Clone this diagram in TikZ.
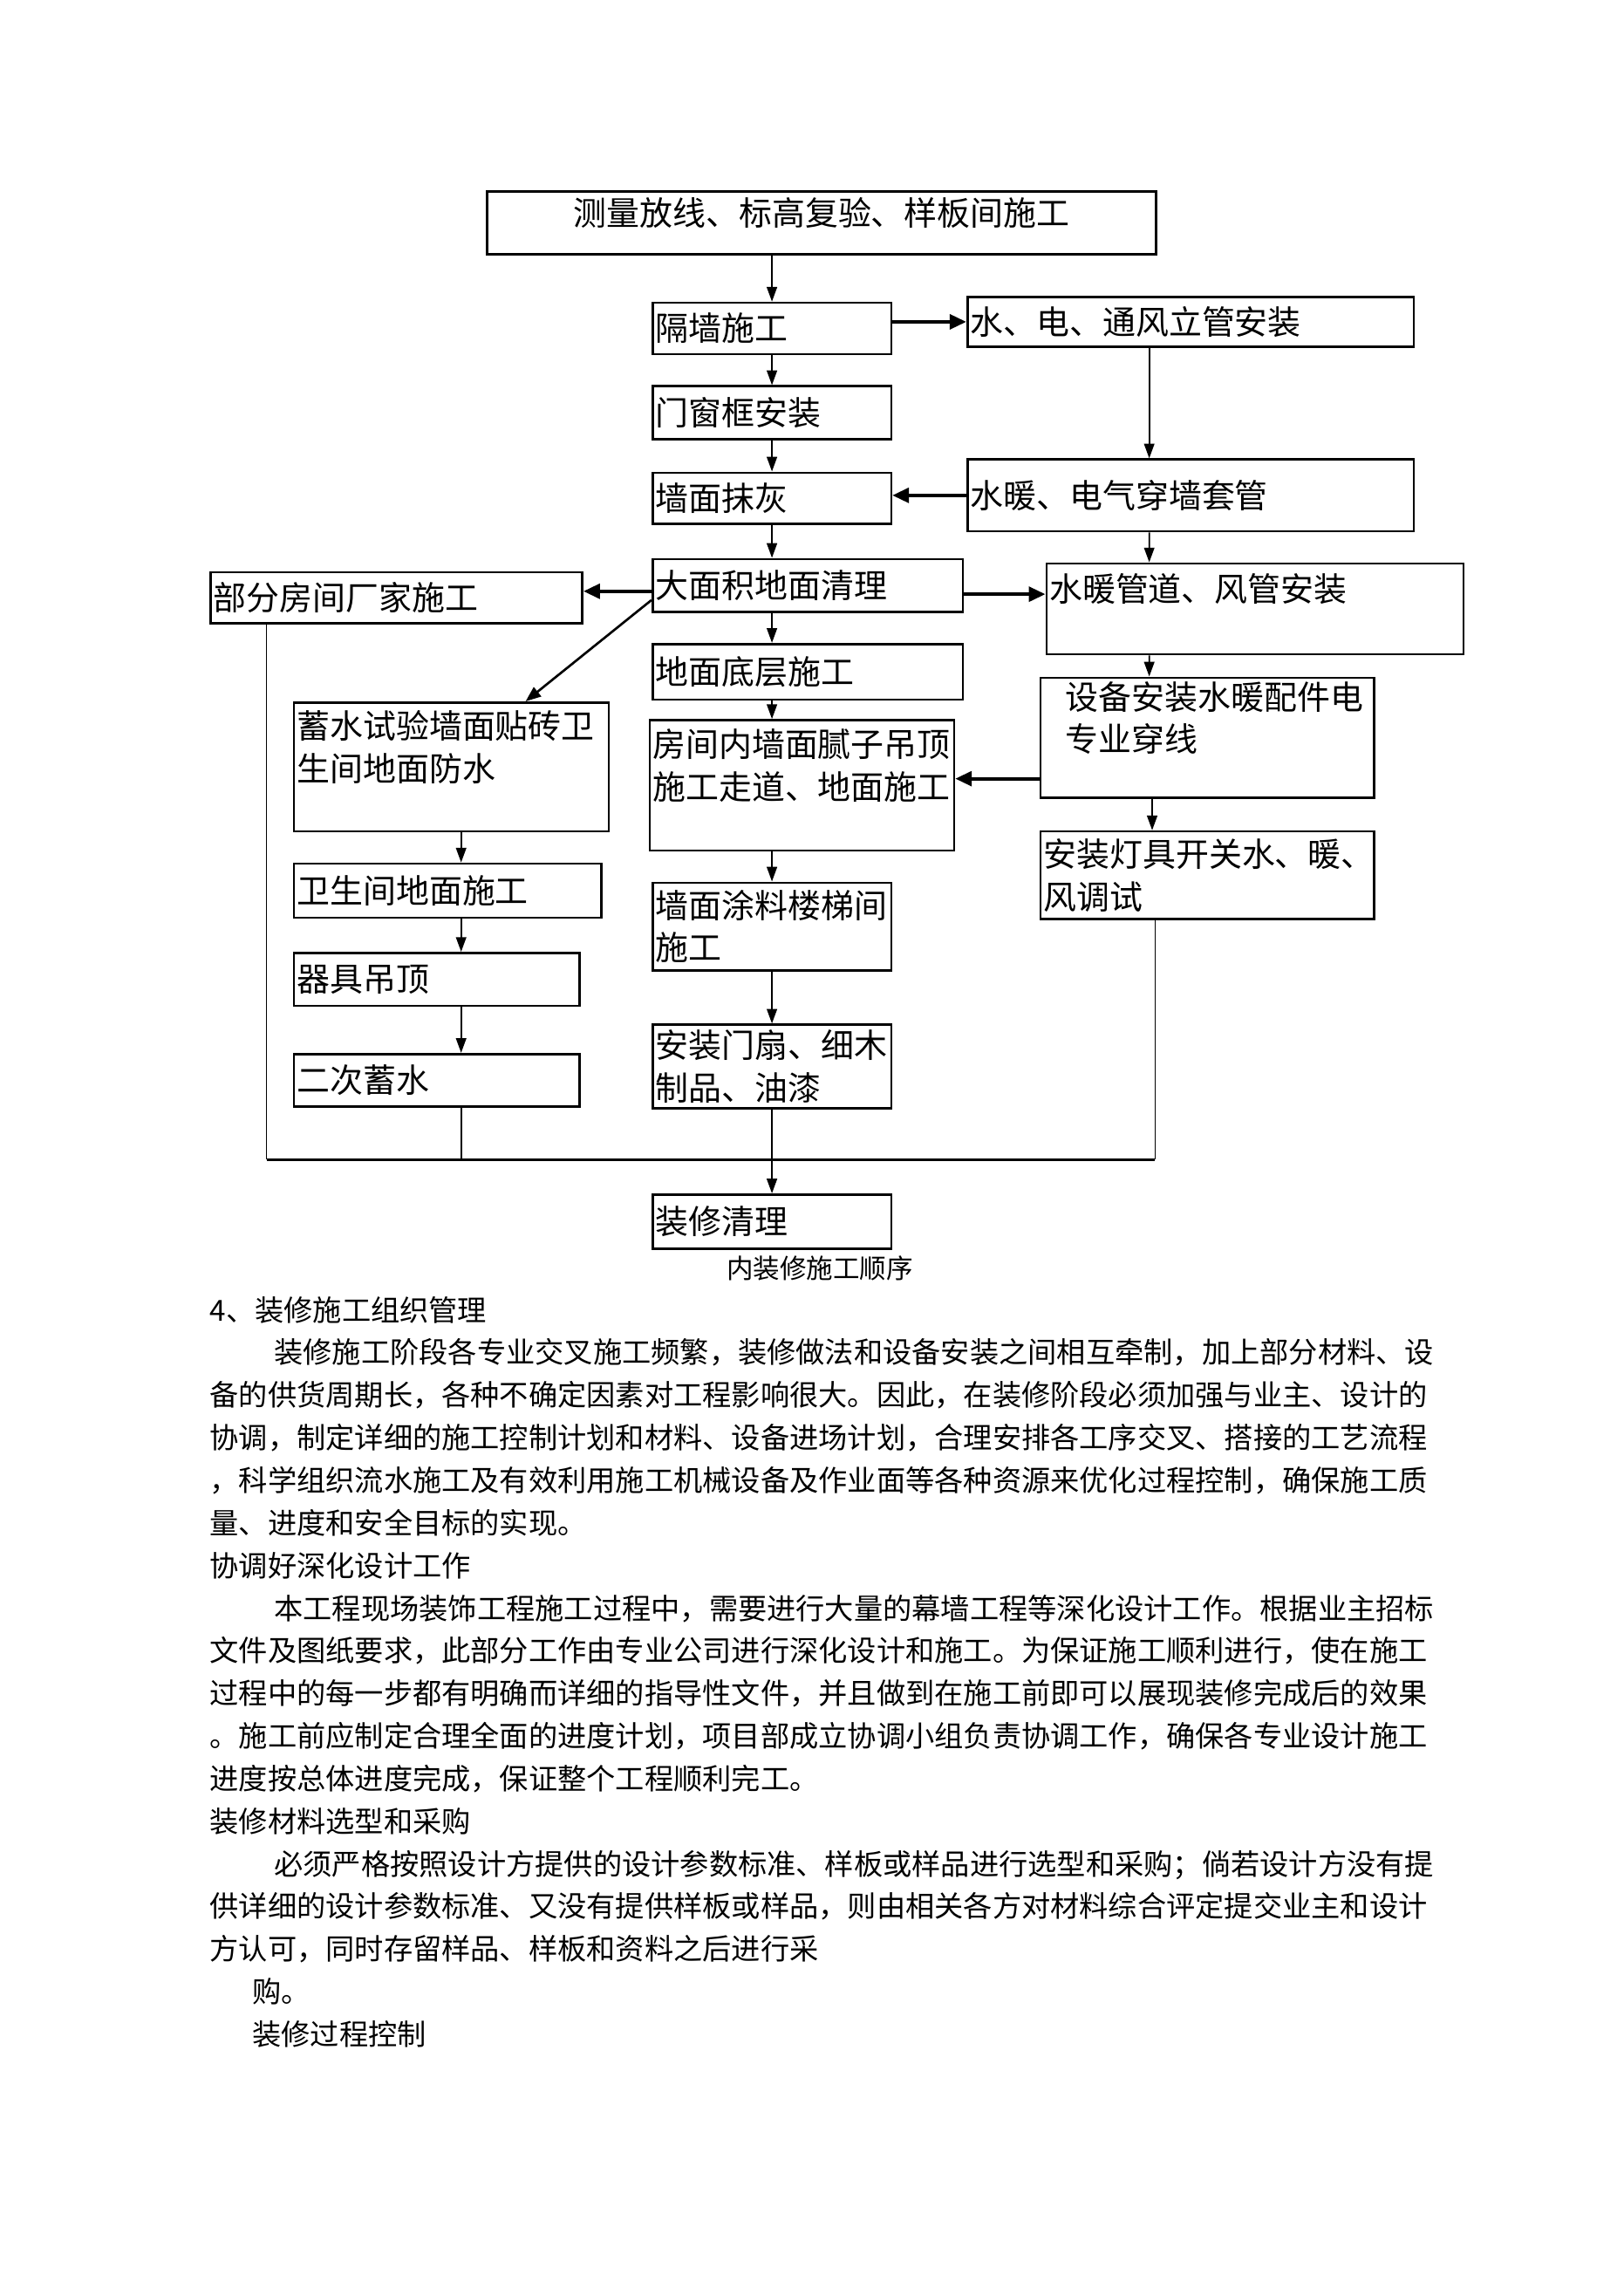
\documentclass[tikz,border=0pt]{standalone}
\usepackage{fontspec}
\setmainfont{Noto Sans CJK SC}
\usetikzlibrary{arrows.meta, positioning}

\begin{document}
\begin{tikzpicture}[x=0.02cm, y=-0.02cm,
  stepbox/.style={draw, line width=0.9pt, inner sep=0pt, anchor=north west, align=left,
    font=\fontsize{12.86}{16.4}\selectfont},
  arr/.style={-{Triangle[length=5.7pt, width=4pt]}, line width=0.6pt},
  darr/.style={-{Triangle[length=6pt, width=4.5pt]}, line width=0.9pt},
  harr/.style={-{Triangle[length=6.4pt, width=5.7pt]}, line width=1.3pt},
  link/.style={line width=0.6pt},
  bodytext/.style={anchor=base west, inner sep=0pt, align=left, text width=17cm,
    font=\fontsize{11.27}{16.56}\selectfont}]
  \useasboundingbox (0,0) rectangle (1109,1568);

  % Main column
  \node[stepbox, minimum width=9.14cm, minimum height=0.86cm, text width=9.1cm, align=center,
    text depth=9pt] (survey) at (332,130) {测量放线、标高复验、样板间施工};
  \node[stepbox, minimum width=3.26cm, minimum height=0.70cm, text width=3.18cm]
    (partition) at (445,206) {隔墙施工};
  \node[stepbox, minimum width=3.26cm, minimum height=0.72cm, text width=3.18cm]
    (frame) at (445,263) {门窗框安装};
  \node[stepbox, minimum width=3.26cm, minimum height=0.70cm, text width=3.18cm]
    (plaster) at (445,322) {墙面抹灰};
  \node[stepbox, minimum width=4.24cm, minimum height=0.72cm, text width=4.16cm]
    (clean) at (445,381) {大面积地面清理};
  \node[stepbox, minimum width=4.24cm, minimum height=0.76cm, text width=4.16cm]
    (base) at (445,439) {地面底层施工};
  \node[stepbox, minimum width=4.16cm, minimum height=1.78cm, text width=4.08cm]
    (putty) at (443,491) {房间内墙面腻子吊顶\\施工走道、地面施工\\~};
  \node[stepbox, minimum width=3.26cm, minimum height=1.20cm, text width=3.18cm]
    (paint) at (445,602) {墙面涂料楼梯间\\施工};
  \node[stepbox, minimum width=3.26cm, minimum height=1.14cm, text width=3.18cm]
    (door) at (445,699) {安装门扇、细木\\制品、油漆};
  \node[stepbox, minimum width=3.26cm, minimum height=0.74cm, text width=3.18cm]
    (finish) at (445,815) {装修清理};

  % Services column (right)
  \node[stepbox, minimum width=6.10cm, minimum height=0.68cm, text width=6.02cm]
    (utility) at (660,202) {水、电、通风立管安装};
  \node[stepbox, minimum width=6.10cm, minimum height=0.98cm, text width=6.02cm]
    (sleeve) at (660,313) {水暖、电气穿墙套管};
  \node[stepbox, minimum width=5.70cm, minimum height=1.24cm, text width=5.62cm]
    (duct) at (714,384) {水暖管道、风管安装\\~};
  \node[stepbox, minimum width=4.56cm, minimum height=1.64cm, text width=3.88cm]
    (equip) at (710,462) {设备安装水暖配件电\\专业穿线\\~};
  \node[stepbox, minimum width=4.56cm, minimum height=1.20cm, text width=4.48cm]
    (fixture) at (710,567) {安装灯具开关水、暖、\\风调试};

  % Wet rooms column (left)
  \node[stepbox, minimum width=5.08cm, minimum height=0.70cm, text width=5.0cm]
    (vendor) at (143,390) {部分房间厂家施工};
  \node[stepbox, minimum width=4.30cm, minimum height=1.76cm, text width=4.22cm]
    (wetroom) at (200,479) {蓄水试验墙面贴砖卫\\生间地面防水\\~};
  \node[stepbox, minimum width=4.20cm, minimum height=0.74cm, text width=4.12cm]
    (bathfloor) at (200,589) {卫生间地面施工};
  \node[stepbox, minimum width=3.90cm, minimum height=0.72cm, text width=3.82cm]
    (ceiling) at (200,650) {器具吊顶};
  \node[stepbox, minimum width=3.90cm, minimum height=0.72cm, text width=3.82cm]
    (refill) at (200,719) {二次蓄水};

  % Arrows
  \draw[arr] (survey.south -| partition.north) -- (partition.north);
  \draw[harr] (partition.east |- utility.west) -- (utility.west);
  \draw[arr] (partition.south) -- (frame.north);
  \draw[arr] (frame.south) -- (plaster.north);
  \draw[arr] ([xshift=2.5cm]utility.south west) -- ([xshift=2.5cm]sleeve.north west);
  \draw[harr] (sleeve.west) -- (sleeve.west -| plaster.east);
  \draw[arr] (plaster.south) -- (plaster.south |- clean.north);
  \draw[arr] ([xshift=2.5cm]sleeve.south west) -- ([xshift=1.42cm]duct.north west);
  \draw[harr] ([yshift=-0.08cm]clean.west) -- ([yshift=-0.08cm]clean.west -| vendor.east);
  \draw[harr] ([yshift=-0.12cm]clean.east) -- ([yshift=-0.12cm]clean.east -| duct.west);
  \draw[darr] ([yshift=-0.2cm]clean.west) -- ([xshift=3.18cm]wetroom.north west);
  \draw[arr] (plaster.south |- clean.south) -- (plaster.south |- base.north);
  \draw[arr] (plaster.south |- base.south) -- (plaster.south |- putty.north);
  \draw[arr] ([xshift=1.42cm]duct.south west) -- ([xshift=1.5cm]equip.north west);
  \draw[harr] ([yshift=0.09cm]putty.east -| equip.west) -- ([yshift=0.09cm]putty.east);
  \draw[arr] ([xshift=1.54cm]equip.south west) -- ([xshift=1.54cm]fixture.north west);
  \draw[arr] ([xshift=2.3cm]wetroom.south west) -- ([xshift=2.3cm]bathfloor.north west);
  \draw[arr] (paint.north |- putty.south) -- (paint.north);
  \draw[arr] ([xshift=2.3cm]bathfloor.south west) -- ([xshift=2.3cm]ceiling.north west);
  \draw[arr] (paint.south) -- (door.north);
  \draw[arr] ([xshift=2.3cm]ceiling.south west) -- ([xshift=2.3cm]refill.north west);

  % Merge line
  \coordinate (joinL) at (182,792);
  \coordinate (joinM) at (315,792);
  \coordinate (joinR) at (789,792);
  \draw[link] (joinL |- vendor.south) -- (joinL);
  \draw[link] (joinM |- refill.south) -- (joinM);
  \draw[link] (joinR |- fixture.south) -- (joinR);
  \draw[line width=1.3pt] (joinL) -- (joinR);
  \draw[arr] (door.south) -- (finish.north);

  \node[font=\fontsize{10.36}{12}\selectfont] (caption) at (560,866) {内装修施工顺序};

  % Text below
  \node[bodytext] (sec4) at (143,902) {4、装修施工组织管理};
  \node[bodytext] (para1) at (143,931.1) {\hspace*{0.88cm}装修施工阶段各专业交叉施工频繁，装修做法和设备安装之间相互牵制，加上部分材料、设\\
    备的供货周期长，各种不确定因素对工程影响很大。因此，在装修阶段必须加强与业主、设计的\\
    协调，制定详细的施工控制计划和材料、设备进场计划，合理安排各工序交叉、搭接的工艺流程\\
    ，科学组织流水施工及有效利用施工机械设备及作业面等各种资源来优化过程控制，确保施工质\\
    量、进度和安全目标的实现。};
  \node[bodytext] (sub1) at (143,1076.6) {协调好深化设计工作};
  \node[bodytext] (para2) at (143,1105.7) {\hspace*{0.88cm}本工程现场装饰工程施工过程中，需要进行大量的幕墙工程等深化设计工作。根据业主招标\\
    文件及图纸要求，此部分工作由专业公司进行深化设计和施工。为保证施工顺利进行，使在施工\\
    过程中的每一步都有明确而详细的指导性文件，并且做到在施工前即可以展现装修完成后的效果\\
    。施工前应制定合理全面的进度计划，项目部成立协调小组负责协调工作，确保各专业设计施工\\
    进度按总体进度完成，保证整个工程顺利完工。};
  \node[bodytext] (sub2) at (143,1251.2) {装修材料选型和采购};
  \node[bodytext] (para3) at (143,1280.3) {\hspace*{0.88cm}必须严格按照设计方提供的设计参数标准、样板或样品进行选型和采购；倘若设计方没有提\\
    供详细的设计参数标准、又没有提供样板或样品，则由相关各方对材料综合评定提交业主和设计\\
    方认可，同时存留样品、样板和资料之后进行采};
  \node[bodytext] (tail) at (172,1367.6) {购。};
  \node[bodytext] (sub3) at (172,1396.7) {装修过程控制};
\end{tikzpicture}
\end{document}
